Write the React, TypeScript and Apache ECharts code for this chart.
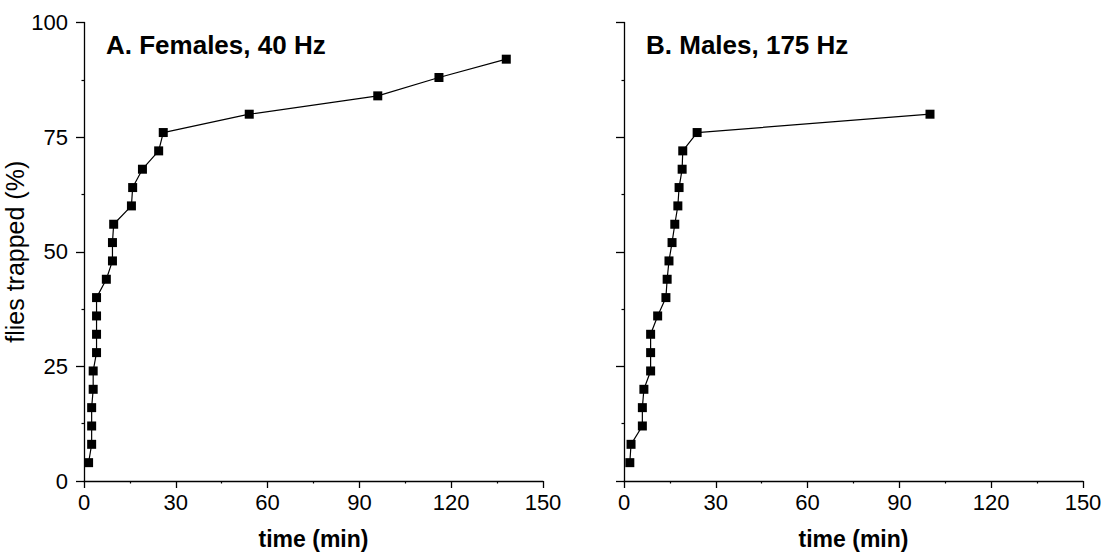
import React, { useEffect, useRef } from "react";
import * as echarts from "echarts";

// Panel A: Females, 40 Hz
const femaleTime = [1.5, 2.5, 2.5, 2.5, 3.0, 3.0, 4.1, 4.1, 4.1, 4.1, 7.3, 9.3, 9.3, 9.7, 15.5, 15.9, 19.1, 24.4, 25.9, 54, 96, 116, 138];
const femalePct = [4, 8, 12, 16, 20, 24, 28, 32, 36, 40, 44, 48, 52, 56, 60, 64, 68, 72, 76, 80, 84, 88, 92];

// Panel B: Males, 175 Hz
const maleTime = [1.9, 2.3, 6.0, 6.0, 6.5, 8.7, 8.7, 8.7, 11.0, 13.7, 14.1, 14.7, 15.7, 16.6, 17.6, 18.0, 19.0, 19.2, 23.9, 100];
const malePct = [4, 8, 12, 16, 20, 24, 28, 32, 36, 40, 44, 48, 52, 56, 60, 64, 68, 72, 76, 80];

const panelTitles = ["A. Females, 40 Hz", "B. Males, 175 Hz"];
const xAxisName = "time (min)";
const yAxisName = "flies trapped (%)";

const FONT = "'Liberation Sans', Arial, Helvetica, sans-serif";

export default function App() {
  const ref = useRef<HTMLDivElement>(null);

  useEffect(() => {
    const chart = echarts.init(ref.current!, null, { renderer: "svg" });

    const makeX = (gridIndex: number) => ({
      type: "value",
      gridIndex,
      min: 0,
      max: 150,
      interval: 30,
      axisLine: { show: true, onZero: false, lineStyle: { color: "#000", width: 1.3 } },
      axisTick: { show: true, length: 7, lineStyle: { color: "#000", width: 1.3 } },
      minorTick: { show: true, splitNumber: 2, length: 2.5, lineStyle: { color: "#000", width: 1.2 } },
      splitLine: { show: false },
      axisLabel: { color: "#000", fontSize: 22, fontFamily: FONT, margin: 10 },
      name: xAxisName,
      nameLocation: "middle",
      nameGap: 46,
      nameTextStyle: { color: "#000", fontSize: 23, fontWeight: "bold", fontFamily: FONT },
    });

    const makeY = (gridIndex: number, labels: boolean) => ({
      type: "value",
      gridIndex,
      min: 0,
      max: 100,
      interval: 25,
      axisLine: { show: true, onZero: false, lineStyle: { color: "#000", width: 1.3 } },
      axisTick: { show: true, length: 8, lineStyle: { color: "#000", width: 1.3 } },
      minorTick: { show: true, splitNumber: 2, length: 2.5, lineStyle: { color: "#000", width: 1.2 } },
      splitLine: { show: false },
      axisLabel: { show: labels, color: "#000", fontSize: 22, fontFamily: FONT, margin: 16 },
      name: labels ? yAxisName : "",
      nameLocation: "middle",
      nameGap: 50,
      nameTextStyle: { color: "#000", fontSize: 25, fontFamily: FONT },
    });

    const makeSeries = (idx: number, xs: number[], ys: number[]) => ({
      type: "line",
      xAxisIndex: idx,
      yAxisIndex: idx,
      data: xs.map((x, i) => [x, ys[i]]),
      symbol: "rect",
      symbolSize: 9,
      showSymbol: true,
      lineStyle: { color: "#000", width: 1.2 },
      itemStyle: { color: "#000" },
      z: 3,
    });

    const titleStyle = { color: "#000", fontSize: 26, fontWeight: "bold", fontFamily: FONT };

    chart.setOption({
      animation: false,
      backgroundColor: "#fff",
      title: [
        { text: panelTitles[0], left: 106, top: 32, padding: 0, textStyle: titleStyle },
        { text: panelTitles[1], left: 646, top: 32, padding: 0, textStyle: titleStyle },
      ],
      grid: [
        { left: 84, top: 22.5, width: 459, height: 460, containLabel: false },
        { left: 624, top: 22.5, width: 459, height: 460, containLabel: false },
      ],
      xAxis: [makeX(0), makeX(1)],
      yAxis: [makeY(0, true), makeY(1, false)],
      series: [makeSeries(0, femaleTime, femalePct), makeSeries(1, maleTime, malePct)],
    });

    return () => chart.dispose();
  }, []);

  return (
    <div
      ref={ref}
      style={{ position: "fixed", left: 0, top: 0, width: 1110, height: 555, background: "#fff" }}
    />
  );
}
